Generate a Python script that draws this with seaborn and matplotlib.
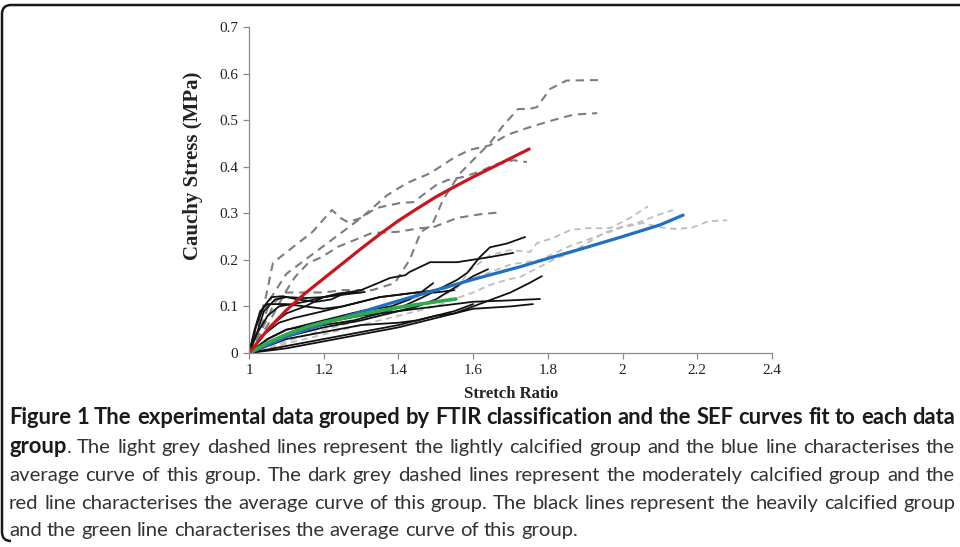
import matplotlib
matplotlib.use("Agg")
import matplotlib.pyplot as plt
import seaborn as sns
import numpy as np
from matplotlib import font_manager
from matplotlib.patches import PathPatch
from matplotlib.path import Path

# ---------------- data ----------------
# moderately calcified group (dark grey dashed)
mod1_x = [1.0, 1.04, 1.07, 1.10, 1.20, 1.25, 1.33, 1.39, 1.43, 1.46, 1.49, 1.52, 1.565, 1.618, 1.645, 1.677, 1.72, 1.75, 1.771, 1.806, 1.85, 1.934]
mod1_y = [0.0, 0.06, 0.11, 0.13, 0.13, 0.135, 0.135, 0.15, 0.20, 0.26, 0.275, 0.33, 0.386, 0.429, 0.451, 0.485, 0.524, 0.524, 0.528, 0.567, 0.585, 0.586]
mod2_x = [1.0, 1.03, 1.06, 1.10, 1.15, 1.20, 1.25, 1.30, 1.37, 1.423, 1.485, 1.546, 1.59, 1.645, 1.69, 1.744, 1.814, 1.87, 1.932]
mod2_y = [0.0, 0.05, 0.12, 0.17, 0.20, 0.23, 0.26, 0.29, 0.339, 0.365, 0.386, 0.418, 0.436, 0.446, 0.468, 0.483, 0.50, 0.512, 0.515]
mod3_x = [1.0, 1.02, 1.045, 1.064, 1.09, 1.13, 1.17, 1.222, 1.245, 1.265, 1.30, 1.332, 1.35, 1.404, 1.44, 1.50, 1.53, 1.573, 1.62, 1.653, 1.707, 1.744]
mod3_y = [0.0, 0.05, 0.12, 0.193, 0.21, 0.235, 0.26, 0.307, 0.29, 0.281, 0.29, 0.307, 0.313, 0.322, 0.324, 0.36, 0.371, 0.378, 0.39, 0.403, 0.414, 0.41]
mod4_x = [1.0, 1.05, 1.096, 1.123, 1.158, 1.195, 1.238, 1.284, 1.33, 1.396, 1.458, 1.493, 1.557, 1.62, 1.672]
mod4_y = [0.0, 0.06, 0.129, 0.163, 0.193, 0.206, 0.228, 0.243, 0.258, 0.26, 0.268, 0.27, 0.29, 0.298, 0.302]

# lightly calcified group (light grey dashed)
lig1_x = [1.0, 1.05, 1.10, 1.20, 1.30, 1.40, 1.45, 1.50, 1.557, 1.592, 1.645, 1.699, 1.752, 1.771, 1.814, 1.86, 1.905, 1.966, 2.02, 2.068]
lig1_y = [0.0, 0.01, 0.025, 0.05, 0.07, 0.09, 0.10, 0.115, 0.14, 0.178, 0.21, 0.221, 0.217, 0.236, 0.247, 0.264, 0.268, 0.268, 0.29, 0.315]
lig2_x = [1.0, 1.10, 1.20, 1.30, 1.40, 1.50, 1.557, 1.60, 1.645, 1.69, 1.725, 1.771, 1.814, 1.867, 1.905, 1.948, 1.993, 2.039, 2.09, 2.135]
lig2_y = [0.0, 0.02, 0.04, 0.06, 0.08, 0.10, 0.118, 0.13, 0.146, 0.157, 0.163, 0.182, 0.20, 0.217, 0.236, 0.257, 0.27, 0.279, 0.295, 0.307]
lig3_x = [1.0, 1.05, 1.10, 1.20, 1.30, 1.40, 1.50, 1.60, 1.70, 1.78, 1.86, 1.93, 2.00, 2.055, 2.10, 2.146, 2.189, 2.23, 2.28]
lig3_y = [0.0, 0.02, 0.04, 0.07, 0.09, 0.11, 0.13, 0.16, 0.19, 0.20, 0.23, 0.25, 0.27, 0.279, 0.27, 0.266, 0.27, 0.283, 0.285]

# heavily calcified group (black)
hev1_x = [1.0, 1.03, 1.08, 1.15, 1.20, 1.28, 1.35, 1.42, 1.466, 1.52, 1.557, 1.584, 1.618, 1.645, 1.69, 1.739]
hev1_y = [0.0, 0.01, 0.03, 0.05, 0.06, 0.07, 0.085, 0.103, 0.12, 0.142, 0.157, 0.172, 0.206, 0.227, 0.235, 0.249]
hev2_x = [1.0, 1.02, 1.05, 1.08, 1.15, 1.20, 1.257, 1.30, 1.345, 1.377, 1.418, 1.43, 1.485, 1.557, 1.645, 1.707]
hev2_y = [0.0, 0.04, 0.08, 0.10, 0.11, 0.12, 0.129, 0.135, 0.15, 0.161, 0.167, 0.174, 0.195, 0.195, 0.206, 0.215]
hev3_x = [1.0, 1.05, 1.10, 1.20, 1.30, 1.40, 1.45, 1.50, 1.55, 1.60, 1.64]
hev3_y = [0.0, 0.02, 0.035, 0.055, 0.07, 0.09, 0.10, 0.115, 0.14, 0.165, 0.18]
hev4_x = [1.0, 1.10, 1.20, 1.30, 1.40, 1.50, 1.55, 1.60, 1.65, 1.70, 1.75, 1.784]
hev4_y = [0.0, 0.01, 0.025, 0.04, 0.055, 0.075, 0.085, 0.10, 0.115, 0.13, 0.15, 0.165]
hev5_x = [1.0, 1.05, 1.10, 1.20, 1.30, 1.40, 1.50, 1.60, 1.70, 1.779]
hev5_y = [0.0, 0.03, 0.05, 0.065, 0.08, 0.09, 0.10, 0.11, 0.113, 0.116]
hev6_x = [1.0, 1.10, 1.20, 1.30, 1.40, 1.45, 1.50, 1.55, 1.60, 1.70, 1.76]
hev6_y = [0.0, 0.015, 0.03, 0.045, 0.06, 0.07, 0.08, 0.085, 0.095, 0.10, 0.105]
hev7_x = [1.0, 1.05, 1.10, 1.20, 1.30, 1.38, 1.43, 1.46, 1.493]
hev7_y = [0.0, 0.03, 0.05, 0.07, 0.09, 0.10, 0.115, 0.13, 0.15]
hev8_x = [1.0, 1.02, 1.04, 1.07, 1.10, 1.15, 1.20, 1.25, 1.31]
hev8_y = [0.0, 0.04, 0.09, 0.115, 0.12, 0.118, 0.12, 0.125, 0.131]
hev9_x = [1.0, 1.02, 1.04, 1.06, 1.09, 1.13, 1.18, 1.22, 1.26, 1.30]
hev9_y = [0.0, 0.06, 0.10, 0.12, 0.122, 0.115, 0.11, 0.115, 0.13, 0.13]
hev10_x = [1.0, 1.03, 1.06, 1.10, 1.15, 1.20, 1.24, 1.28]
hev10_y = [0.0, 0.03, 0.06, 0.085, 0.10, 0.12, 0.128, 0.13]
hev11_x = [1.0, 1.015, 1.03, 1.05, 1.10, 1.15, 1.20, 1.25, 1.30, 1.35, 1.40, 1.45, 1.50, 1.55]
hev11_y = [0.0, 0.05, 0.09, 0.105, 0.105, 0.10, 0.095, 0.10, 0.11, 0.12, 0.125, 0.13, 0.13, 0.135]
hev12_x = [1.0, 1.05, 1.10, 1.20, 1.30, 1.40, 1.45, 1.50, 1.55, 1.60]
hev12_y = [0.0, 0.015, 0.03, 0.045, 0.06, 0.065, 0.07, 0.08, 0.09, 0.105]
hev13_x = [1.0, 1.04, 1.08, 1.12, 1.20, 1.25, 1.30, 1.35, 1.40, 1.45, 1.50]
hev13_y = [0.0, 0.04, 0.065, 0.075, 0.09, 0.10, 0.11, 0.12, 0.125, 0.13, 0.135]

# SEF average curves
red_x = [1.0, 1.05, 1.10, 1.15, 1.20, 1.25, 1.30, 1.35, 1.40, 1.45, 1.50, 1.55, 1.60, 1.65, 1.70, 1.75]
red_y = [0.0, 0.05, 0.092, 0.128, 0.16, 0.192, 0.224, 0.255, 0.284, 0.31, 0.335, 0.357, 0.378, 0.398, 0.418, 0.438]
blue_x = [1.0, 1.10, 1.203, 1.30, 1.40, 1.50, 1.60, 1.725, 1.80, 1.90, 2.00, 2.10, 2.162]
blue_y = [0.0, 0.035, 0.064, 0.088, 0.112, 0.135, 0.158, 0.185, 0.203, 0.226, 0.25, 0.275, 0.296]
green_x = [1.0, 1.05, 1.10, 1.155, 1.20, 1.30, 1.40, 1.50, 1.554]
green_y = [0.0, 0.022, 0.04, 0.056, 0.066, 0.083, 0.098, 0.11, 0.116]

x_ticks = [1, 1.2, 1.4, 1.6, 1.8, 2, 2.2, 2.4]
y_ticks = [0, 0.1, 0.2, 0.3, 0.4, 0.5, 0.6, 0.7]
x_label = "Stretch Ratio"
y_label = "Cauchy Stress (MPa)"

caption_lines = [
    [("Figure 1 The experimental data grouped by FTIR classification and the SEF curves fit to each data", True)],
    [("group", True), (". The light grey dashed lines represent the lightly calcified group and the blue line characterises the", False)],
    [("average curve of this group. The dark grey dashed lines represent the moderately calcified group and the", False)],
    [("red line characterises the average curve of this group. The black lines represent the heavily calcified group", False)],
    [("and the green line characterises the average curve of this group.", False)],
]

# ---------------- figure ----------------
sns.set_theme(style="white")
plt.rcParams['font.family'] = ['DejaVu Sans']
W, H = 960, 547
fig = plt.figure(figsize=(W / 100, H / 100), dpi=100)
ax = fig.add_axes([249 / W, 1 - 353 / H, (772 - 249) / W, (353 - 27) / H])

dark = "#7d7d7d"
light = "#bdbdbd"
for xs, ys in [(lig1_x, lig1_y), (lig2_x, lig2_y), (lig3_x, lig3_y)]:
    sns.lineplot(x=xs, y=ys, ax=ax, color=light, lw=1.3, linestyle=(0, (3.5, 2.5)),
                 estimator=None, sort=False)
for xs, ys in [(mod1_x, mod1_y), (mod2_x, mod2_y), (mod3_x, mod3_y), (mod4_x, mod4_y)]:
    sns.lineplot(x=xs, y=ys, ax=ax, color=dark, lw=1.5, linestyle=(0, (4, 2.8)),
                 estimator=None, sort=False)
heavy = [(hev1_x, hev1_y), (hev2_x, hev2_y), (hev3_x, hev3_y), (hev4_x, hev4_y), (hev5_x, hev5_y),
         (hev6_x, hev6_y), (hev7_x, hev7_y), (hev8_x, hev8_y), (hev9_x, hev9_y), (hev10_x, hev10_y),
         (hev11_x, hev11_y), (hev12_x, hev12_y), (hev13_x, hev13_y)]
for xs, ys in heavy:
    sns.lineplot(x=xs, y=ys, ax=ax, color="#111111", lw=1.3, estimator=None, sort=False)

sns.lineplot(x=blue_x, y=blue_y, ax=ax, color="#1f70c1", lw=2.3, estimator=None, sort=False)
sns.lineplot(x=green_x, y=green_y, ax=ax, color="#2eaa4a", lw=2.6, estimator=None, sort=False)
sns.lineplot(x=red_x, y=red_y, ax=ax, color="#c8161d", lw=2.3, estimator=None, sort=False)

ax.set_xlim(1, 2.4)
ax.set_ylim(0, 0.7)
ax.set_xticks(x_ticks)
ax.set_yticks(y_ticks)
ax.set_xticklabels([f"{v:g}" for v in x_ticks])
ax.set_yticklabels([f"{v:g}" for v in y_ticks])
for s in ["top", "right"]:
    ax.spines[s].set_visible(False)
for s in ["left", "bottom"]:
    ax.spines[s].set_color("#8c8c8c")
    ax.spines[s].set_linewidth(0.9)
ax.tick_params(axis="both", which="major", direction="out", length=4, width=0.9,
               color="#8c8c8c", labelsize=11, pad=4, labelcolor="#222222")
ax.tick_params(bottom=True, left=True)
for lab in ax.get_xticklabels() + ax.get_yticklabels():
    lab.set_fontfamily(["Liberation Serif", "DejaVu Serif"])

ax.set_xlabel(x_label, fontfamily=["Liberation Serif"], fontweight="bold", fontsize=12, color="#222222")
ax.set_ylabel(y_label, fontfamily=["Liberation Serif"], fontweight="bold", fontsize=15, color="#222222")
ax.xaxis.set_label_coords((511 - 249) / 523, (353 - 386) / 326)
ax.yaxis.set_label_coords((203 - 249) / 523, (353 - 166) / 326)
ax.set_facecolor("none")

# ---------------- frame around figure ----------------
def fx(px):
    return px / W

def fy(py):
    return 1 - py / H

r = 9
verts = [(fx(960), fy(5)), (fx(2 + r), fy(5)), (fx(2), fy(5)), (fx(2), fy(5 + r)),
         (fx(2), fy(541 - r)), (fx(2), fy(541)), (fx(2 + r), fy(541))]
codes = [Path.MOVETO, Path.LINETO, Path.CURVE3, Path.CURVE3, Path.LINETO, Path.CURVE3, Path.CURVE3]
fig.patches.append(PathPatch(Path(verts, codes), transform=fig.transFigure, fill=False,
                             lw=1.8, edgecolor="#1a1a1a", capstyle="butt"))

# ---------------- caption ----------------
avail = {f.name for f in font_manager.fontManager.ttflist}
cap_font = None
for cand in ["Liberation Sans Narrow", "Lato", "Noto Sans", "DejaVu Sans"]:
    if cand in avail:
        cap_font = cand
        break

renderer = fig.canvas.get_renderer()

def text_width(s, size, bold):
    t = fig.text(0, 0, s, fontsize=size, fontweight="bold" if bold else "normal",
                 family=[cap_font, "DejaVu Sans"])
    w = t.get_window_extent(renderer).width
    t.remove()
    return w

left_px, right_px = 9, 955
target = right_px - left_px
size0 = 12
w0 = text_width(caption_lines[0][0][0], size0, True)
bold_size = size0 * (target - 2) / w0
w4 = text_width(caption_lines[3][0][0], size0, False)
reg_size = min(bold_size, size0 * (target - 6) / w4)

baselines = [424, 453, 481, 509, 536]
for i, line in enumerate(caption_lines):
    words = []
    for seg, bold in line:
        parts = seg.split(" ")
        for j, p in enumerate(parts):
            if p == "":
                continue
            if j == 0 and words and not seg.startswith(" "):
                words[-1].append((p, bold))
            else:
                words.append([(p, bold)])
    sz = lambda b: bold_size if b else reg_size
    widths = [[text_width(p, sz(b), b) for p, b in wd] for wd in words]
    total = sum(sum(w) for w in widths)
    justify = i < len(caption_lines) - 1
    if justify:
        space = (target - total) / (len(words) - 1)
    else:
        space = text_width("n n", reg_size, False) - text_width("nn", reg_size, False)
    x = left_px
    for wd, ws in zip(words, widths):
        xx = x
        for (p, b), w in zip(wd, ws):
            fig.text(fx(xx), fy(baselines[i]), p, fontsize=sz(b),
                     fontweight="bold" if b else "normal", family=[cap_font, "DejaVu Sans"],
                     color="#1a1a1a" if b else "#333333", va="baseline", ha="left")
            xx += w
        x += sum(ws) + space

fig.savefig("out.png", dpi=100)
